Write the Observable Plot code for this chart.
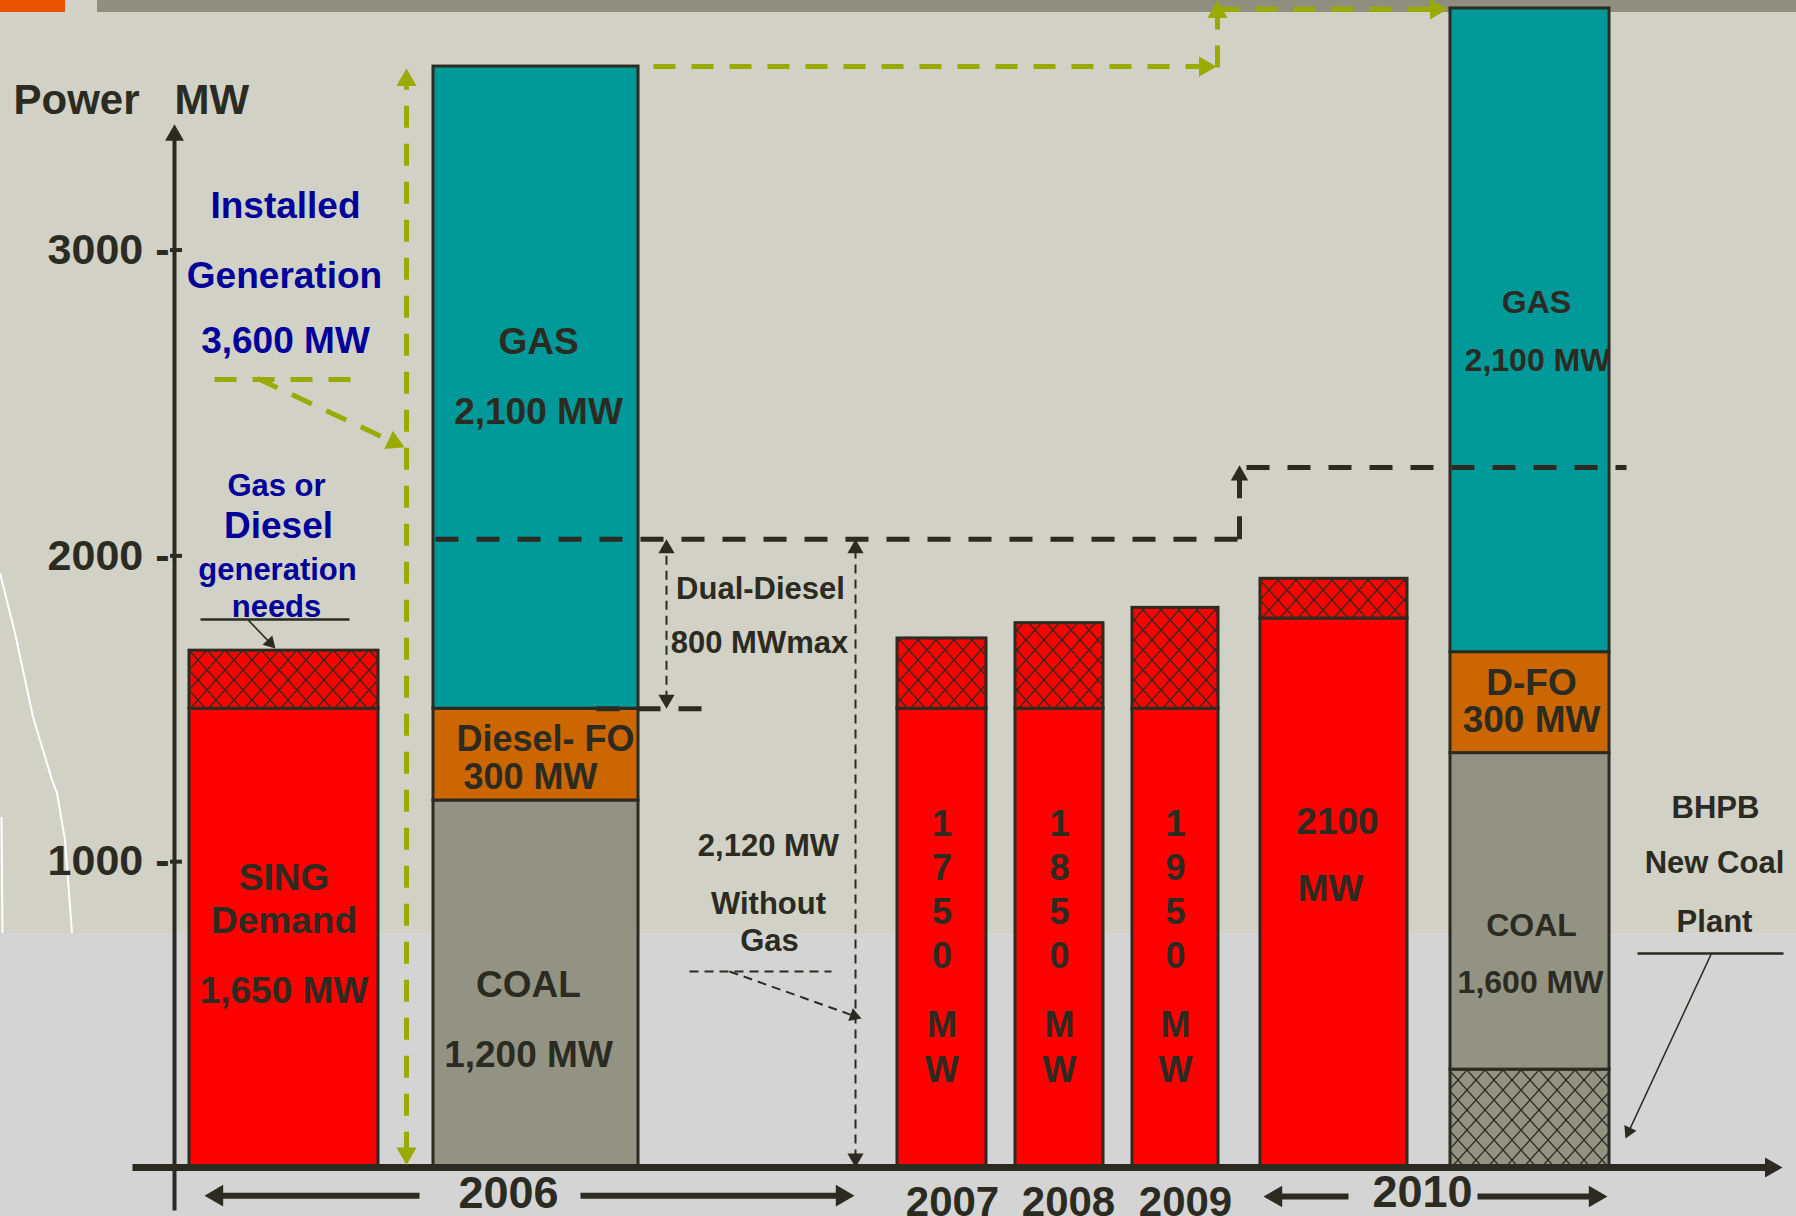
<!DOCTYPE html>
<html>
<head>
<meta charset="utf-8">
<script src="https://cdn.jsdelivr.net/npm/d3@7"></script>
<script src="https://cdn.jsdelivr.net/npm/@observablehq/plot@0.6"></script>
<style>
  html, body { margin: 0; padding: 0; }
  body { width: 1796px; height: 1216px; overflow: hidden; background: #d4d4d4; }
  #chart {
    width: 1796px; height: 1216px; position: relative;
    background:
      linear-gradient(#e85400, #e85400) 0 0 / 65px 12px no-repeat,
      linear-gradient(#8f8f7f, #8f8f7f) 97px 0 / 1699px 12px no-repeat,
      url("data:image/svg+xml;utf8,<svg xmlns='http://www.w3.org/2000/svg' width='1796' height='1216'><path d='M0,573 L15,633 L33,717 L52,780 L57,793 L65,840 L72,933 M1.5,817 L2.5,933' stroke='white' stroke-width='2' fill='none'/></svg>") 0 0 / 1796px 1216px no-repeat,
      linear-gradient(to bottom, #d1d1c5 0px, #d1d1c5 933px, #d4d4d4 933px, #d4d4d4 1216px);
  }
</style>
</head>
<body>
<div id="chart"></div>
<script>
// ---------------- DATA ----------------
const demandCats   = ["SING 2006", "2007", "2008", "2009", "2010"];
const demandFirm   = [1500, 1500, 1500, 1500, 1795];   // solid red part (MW)
const demandTotal  = [1690, 1730, 1780, 1830, 1925];   // incl. hatched gas/diesel needs (MW)
const demandLabel  = [1650, 1750, 1850, 1950, 2100];   // values printed on the bars

const supplyCats   = ["Installed 2006", "Installed 2010"];
const newCoalMW    = [0, 320];     // BHPB new coal plant (hatched)
const coalMW       = [1200, 1035];
const dieselFOMW   = [300, 330];
const gasMW        = [2100, 2105];

const yTicks       = [1000, 2000, 3000];
const dualDieselTop = 2054;        // 2,120 MW without gas line
const dualDiesel2010 = 2289;

// ---------------- STYLE / LAYOUT ----------------
const W = 1796, H = 1216, MB = 49;
const yMax = 3816;
const xDomain = [0, 17.96];
const dark = "#2b2b22", blue = "#00009a", olive = "#9aab00";
const FONT = "Liberation Sans, Arial, Helvetica, sans-serif";

// horizontal span of each category (layout units)
const span = {
  "SING 2006": [1.89, 3.78],
  "Installed 2006": [4.33, 6.38],
  "2007": [8.97, 9.86],
  "2008": [10.15, 11.03],
  "2009": [11.32, 12.18],
  "2010": [12.60, 14.07],
  "Installed 2010": [14.50, 16.09]
};
const mid = c => (span[c][0] + span[c][1]) / 2;

// ---------------- BARS ----------------
const rects = [];
demandCats.forEach((c, i) => {
  rects.push({x1: span[c][0], x2: span[c][1], y1: 0, y2: demandFirm[i], fill: "#ff0000"});
  rects.push({x1: span[c][0], x2: span[c][1], y1: demandFirm[i], y2: demandTotal[i], fill: "url(#hatchRed)"});
});
supplyCats.forEach((c, i) => {
  const segs = [
    [newCoalMW[i], "url(#hatchGray)"],
    [coalMW[i], "#939383"],
    [dieselFOMW[i], "#cc6600"],
    [gasMW[i], "#009999"]
  ];
  let base = 0;
  for (const [v, f] of segs) {
    if (v > 0) rects.push({x1: span[c][0], x2: span[c][1], y1: base, y2: base + v, fill: f});
    base += v;
  }
});

// ---------------- ANNOTATION GEOMETRY ----------------
const X = Plot.scale({x: {domain: xDomain, range: [0, W]}});
const Y = Plot.scale({y: {domain: [0, yMax], range: [H - MB, 0]}});

function build(segs, r) {
  const lines = [], heads = [];
  for (const s of segs) {
    let p1 = [X.apply(s.x1), Y.apply(s.y1)], p2 = [X.apply(s.x2), Y.apply(s.y2)];
    const len = Math.hypot(p2[0] - p1[0], p2[1] - p1[1]);
    const ux = (p2[0] - p1[0]) / len, uy = (p2[1] - p1[1]) / len;
    const rr = s.r ?? r;
    const cut = 1.5 * rr;
    const head = (tip, vx, vy) => {
      const off = 1.555 * rr;
      heads.push({x: X.invert(tip[0] - vx * off), y: Y.invert(tip[1] - vy * off),
                  rotate: Math.atan2(vx, -vy) * 180 / Math.PI, r: rr});
    };
    if (s.heads === "end" || s.heads === "both") { head(p2, ux, uy); p2 = [p2[0] - ux * cut, p2[1] - uy * cut]; }
    if (s.heads === "both") { head(p1, -ux, -uy); p1 = [p1[0] + ux * cut, p1[1] + uy * cut]; }
    lines.push({x1: X.invert(p1[0]), y1: Y.invert(p1[1]), x2: X.invert(p2[0]), y2: Y.invert(p2[1])});
  }
  return {lines, heads};
}

const olive1 = build([
  {x1: 4.06, y1: 8, x2: 4.06, y2: 3594, heads: "both"},
  {x1: 2.14, y1: 2577, x2: 3.58, y2: 2577},
  {x1: 2.57, y1: 2580, x2: 4.04, y2: 2355, heads: "end"},
  {x1: 6.53, y1: 3600, x2: 12.16, y2: 3600, heads: "end"},
  {x1: 12.17, y1: 3597, x2: 12.17, y2: 3816, heads: "end"},
  {x1: 12.17, y1: 3787, x2: 14.47, y2: 3787, heads: "end"}
], 7.5);

const blackDash = build([
  {x1: 4.35, y1: dualDieselTop, x2: 12.45, y2: dualDieselTop},
  {x1: 12.39, y1: dualDieselTop, x2: 12.39, y2: 2296, heads: "end"},
  {x1: 12.46, y1: dualDiesel2010, x2: 16.26, y2: dualDiesel2010},
  {x1: 5.96, y1: 1500, x2: 7.04, y2: 1500}
], 6.5);

const thinDash = build([
  {x1: 6.66, y1: 1500, x2: 6.66, y2: dualDieselTop, heads: "both"},
  {x1: 8.55, y1: 0, x2: 8.55, y2: dualDieselTop, heads: "both"},
  {x1: 6.89, y1: 641, x2: 8.31, y2: 641},
  {x1: 7.29, y1: 641, x2: 8.61, y2: 487, heads: "end", r: 5}
], 6);

const thinSolid = build([
  {x1: 2.48, y1: 1789, x2: 2.75, y2: 1697, heads: "end"},
  {x1: 17.11, y1: 700, x2: 16.25, y2: 95, heads: "end"}
], 5);
const leaderRules = build([
  {x1: 2.00, y1: 1792, x2: 3.49, y2: 1792},
  {x1: 16.37, y1: 700, x2: 17.83, y2: 700}
], 5);

const yAxis = build([{x1: 1.74, y1: -141, x2: 1.74, y2: 3411, heads: "end"}], 7);
const xAxis = build([{x1: 1.32, y1: 0, x2: 17.82, y2: 0, heads: "end"}], 7.5);
const yearArrows = build([
  {x1: 4.19, y1: -92, x2: 2.04, y2: -92, heads: "end"},
  {x1: 5.80, y1: -92, x2: 8.54, y2: -92, heads: "end"},
  {x1: 13.48, y1: -95, x2: 12.63, y2: -95, heads: "end"},
  {x1: 14.77, y1: -95, x2: 16.07, y2: -95, heads: "end"}
], 8);

// ---------------- TEXT ----------------
const fmt = d3.format(",");
const darkTexts = [
  {text: "SING", x: mid("SING 2006"), y: 945, size: 37},
  {text: "Demand", x: mid("SING 2006"), y: 804, size: 37},
  {text: `${fmt(demandLabel[0])} MW`, x: mid("SING 2006"), y: 576, size: 37},
  {text: "GAS", x: 5.38, y: 2698, size: 37},
  {text: `${fmt(gasMW[0])} MW`, x: 5.38, y: 2469, size: 37},
  {text: "Diesel- FO", x: 5.45, y: 1399, size: 36},
  {text: `${fmt(dieselFOMW[0])} MW`, x: 5.30, y: 1277, size: 36},
  {text: "COAL", x: 5.28, y: 595, size: 37},
  {text: `${fmt(coalMW[0])} MW`, x: 5.28, y: 366, size: 37},
  {text: "Dual-Diesel", x: 7.60, y: 1893, size: 31},
  {text: "800 MWmax", x: 7.59, y: 1714, size: 31},
  {text: "2,120 MW", x: 7.68, y: 1050, size: 31},
  {text: "Without", x: 7.68, y: 863, size: 31},
  {text: "Gas", x: 7.69, y: 739, size: 31},
  {text: `${demandLabel[4]}`, x: 13.37, y: 1128, size: 37},
  {text: "MW", x: 13.30, y: 909, size: 37},
  {text: "GAS", x: 15.36, y: 2829, size: 32},
  {text: "2,100 MW", x: 15.37, y: 2639, size: 32},
  {text: "D-FO", x: 15.31, y: 1583, size: 37},
  {text: "300 MW", x: 15.31, y: 1462, size: 37},
  {text: "COAL", x: 15.31, y: 791, size: 32},
  {text: "1,600 MW", x: 15.30, y: 605, size: 32},
  {text: "BHPB", x: 17.15, y: 1174, size: 31},
  {text: "New Coal", x: 17.14, y: 994, size: 31},
  {text: "Plant", x: 17.14, y: 801, size: 31}
];
const blueTexts = [
  {text: "Installed", x: 2.85, y: 3143, size: 37},
  {text: "Generation", x: 2.84, y: 2914, size: 37},
  {text: "3,600 MW", x: 2.85, y: 2701, size: 37},
  {text: "Gas or", x: 2.76, y: 2227, size: 31},
  {text: "Diesel", x: 2.78, y: 2096, size: 37},
  {text: "generation", x: 2.77, y: 1955, size: 31},
  {text: "needs", x: 2.76, y: 1834, size: 31}
];
const verticalCats = ["2007", "2008", "2009"];
const verticalDigits = verticalCats.map(c => ({
  x: mid(c), text: String(demandLabel[demandCats.indexOf(c)]).split("").join("\n")
}));
const verticalMW = verticalCats.map(c => ({x: mid(c), text: "M\nW"}));

const yearsBig = [{text: "2006", x: 5.08, y: -85}, {text: "2010", x: 14.22, y: -82}];
const yearsSmall = [{text: "2007", x: 9.52, y: -114}, {text: "2008", x: 10.68, y: -114}, {text: "2009", x: 11.85, y: -114}];

// ---------------- PLOT ----------------
const linkMark = (set, opts) => Plot.link(set.lines, {x1: "x1", y1: "y1", x2: "x2", y2: "y2", ...opts});
const headMark = (set, fill) => Plot.dot(set.heads, {x: "x", y: "y", r: "r", rotate: "rotate", symbol: "triangle", fill, stroke: "none"});

const svg = Plot.plot({
  width: W, height: H,
  marginTop: 0, marginRight: 0, marginBottom: MB, marginLeft: 0,
  x: {domain: xDomain, axis: null},
  y: {domain: [0, yMax], axis: null},
  color: {type: "identity"},
  r: {type: "identity"},
  style: {background: "transparent", fontFamily: FONT, overflow: "visible"},
  marks: [
    Plot.rect(rects, {x1: "x1", x2: "x2", y1: "y1", y2: "y2", fill: d => d.fill, stroke: dark, strokeWidth: 3}),
    // axes
    linkMark(yAxis, {stroke: dark, strokeWidth: 4}),
    headMark(yAxis, dark),
    linkMark(xAxis, {stroke: dark, strokeWidth: 7}),
    headMark(xAxis, dark),
    Plot.ruleY(yTicks, {y: d => d, x1: 1.70, x2: 1.82, stroke: dark, strokeWidth: 4}),
    Plot.text(yTicks, {x: 1.69, y: d => d, text: d => `${d} -`, textAnchor: "end", fontSize: 43, fontWeight: "bold", fill: dark}),
    Plot.text(["Power   MW"], {x: 0.13, y: 3489, text: d => d, textAnchor: "start", fontSize: 42, fontWeight: "bold", fill: dark}),
    // year labels and arrows
    linkMark(yearArrows, {stroke: dark, strokeWidth: 6}),
    headMark(yearArrows, dark),
    Plot.text(yearsBig, {x: "x", y: "y", text: "text", fontSize: 45, fontWeight: "bold", fill: dark}),
    Plot.text(yearsSmall, {x: "x", y: "y", text: "text", fontSize: 42, fontWeight: "bold", fill: dark}),
    // dashed annotations
    linkMark(blackDash, {stroke: dark, strokeWidth: 5, strokeDasharray: "23,18"}),
    headMark(blackDash, dark),
    linkMark(thinDash, {stroke: dark, strokeWidth: 2, strokeDasharray: "9,6"}),
    headMark(thinDash, dark),
    linkMark(thinSolid, {stroke: dark, strokeWidth: 1.5}),
    headMark(thinSolid, dark),
    linkMark(leaderRules, {stroke: dark, strokeWidth: 2.5}),
    linkMark(olive1, {stroke: olive, strokeWidth: 5, strokeDasharray: "22,16"}),
    headMark(olive1, olive),
    // texts
    Plot.text(darkTexts, {x: "x", y: "y", text: "text", fontSize: d => d.size, fontWeight: "bold", fill: dark}),
    Plot.text(blueTexts, {x: "x", y: "y", text: "text", fontSize: d => d.size, fontWeight: "bold", fill: blue}),
    Plot.text(verticalDigits, {x: "x", y: 914, text: "text", fontSize: 36, lineHeight: 1.22, fontWeight: "bold", fill: dark}),
    Plot.text(verticalMW, {x: "x", y: 399, text: "text", fontSize: 36, lineHeight: 1.25, fontWeight: "bold", fill: dark})
  ]
});

// hatch patterns
const defs = d3.create("svg:defs");
function hatch(id, bg) {
  const p = defs.append("pattern").attr("id", id).attr("patternUnits", "userSpaceOnUse")
    .attr("width", 18).attr("height", 20);
  p.append("rect").attr("width", 18).attr("height", 20).attr("fill", bg);
  p.append("path").attr("d", "M0,0L18,20M18,0L0,20").attr("stroke", dark).attr("stroke-width", 1.3).attr("fill", "none");
}
hatch("hatchRed", "#ff0000");
hatch("hatchGray", "#939383");
svg.insertBefore(defs.node(), svg.firstChild);

document.getElementById("chart").appendChild(svg);
</script>
</body>
</html>
